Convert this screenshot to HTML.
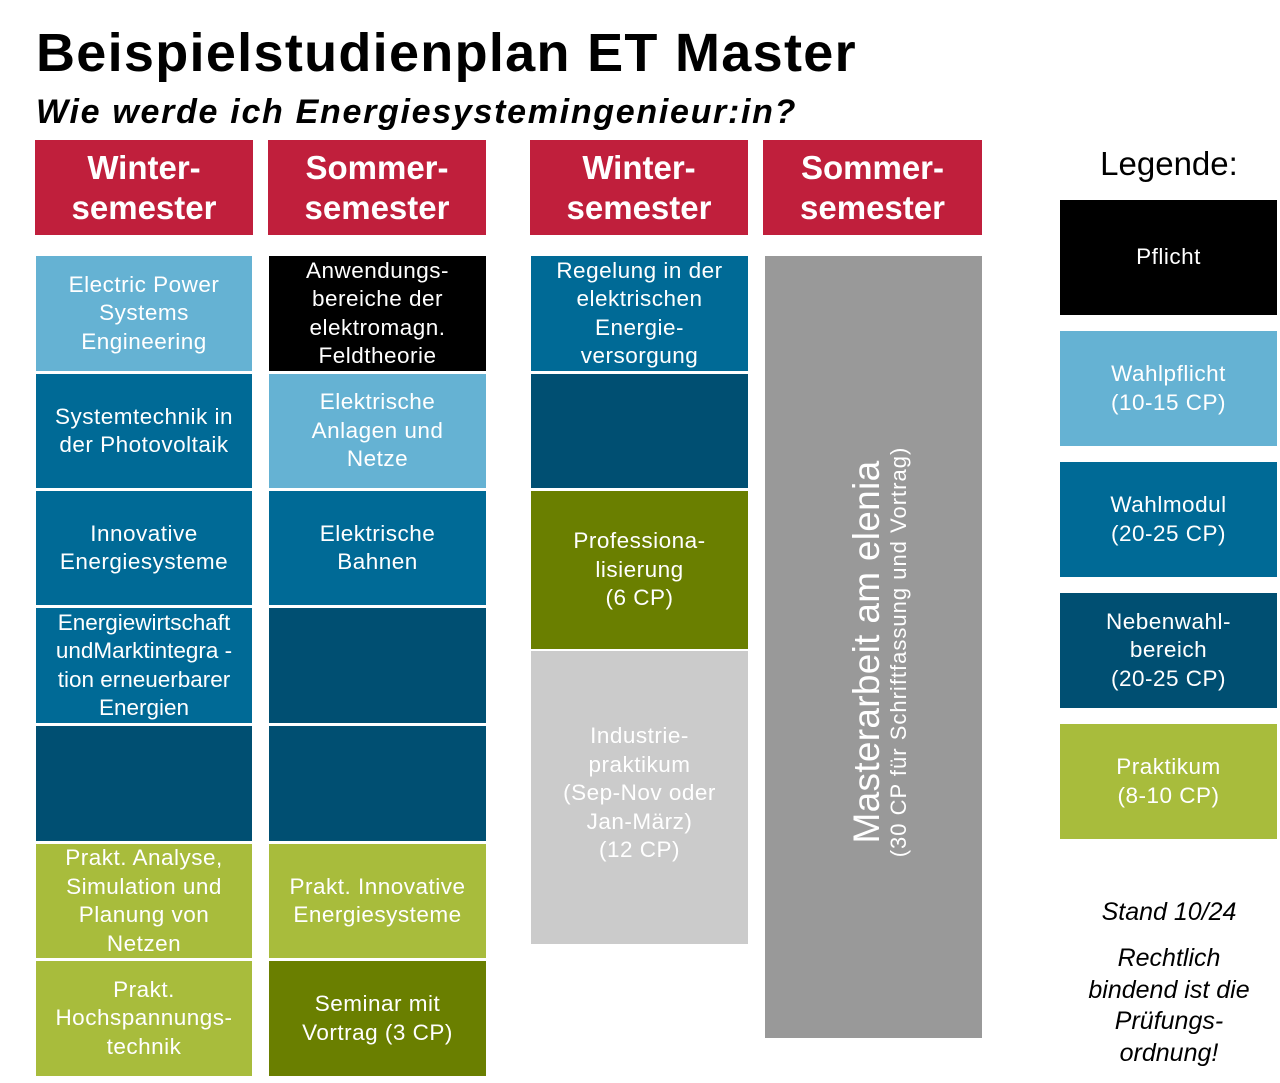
<!DOCTYPE html>
<html><head><meta charset="utf-8"><style>
*{margin:0;padding:0;box-sizing:border-box}
body{width:1280px;height:1083px;background:#fff;position:relative;overflow:hidden;font-family:"Liberation Sans",Arial,sans-serif}
.a{position:absolute;display:flex;align-items:center;justify-content:center;text-align:center;color:#fff}
.h{background:#C01F3C;font-weight:bold;font-size:33px;line-height:40px}
.c{font-size:22.5px;line-height:28.5px;letter-spacing:0.5px}
.lb{background:#65B2D3}.mb{background:#006A96}.db{background:#004F72}
.lg{background:#A8BC3C}.og{background:#6A7F00}.bk{background:#000}
</style></head><body>
<div style="position:absolute;left:36px;top:23px;font-size:54px;letter-spacing:1.3px;font-weight:bold;line-height:60px;white-space:nowrap">Beispielstudienplan ET Master</div>
<div style="position:absolute;left:36px;top:92px;font-size:34px;letter-spacing:1.7px;font-weight:bold;font-style:italic;line-height:40px;white-space:nowrap">Wie werde ich Energiesystemingenieur:in?</div>

<div class="a h" style="left:35px;top:140px;width:218px;height:95px">Winter-<br>semester</div>
<div class="a h" style="left:268px;top:140px;width:218px;height:95px">Sommer-<br>semester</div>
<div class="a h" style="left:530px;top:140px;width:218px;height:95px">Winter-<br>semester</div>
<div class="a h" style="left:763px;top:140px;width:219px;height:95px">Sommer-<br>semester</div>

<div class="a c lb" style="left:36px;top:256px;width:216px;height:115px">Electric Power<br>Systems<br>Engineering</div>
<div class="a c mb" style="left:36px;top:374px;width:216px;height:114px">Systemtechnik in<br>der Photovoltaik</div>
<div class="a c mb" style="left:36px;top:491px;width:216px;height:114px">Innovative<br>Energiesysteme</div>
<div class="a c mb" style="left:36px;top:608px;width:216px;height:115px;letter-spacing:0">Energiewirtschaft<br>undMarktintegra -<br>tion erneuerbarer<br>Energien</div>
<div class="a c db" style="left:36px;top:726px;width:216px;height:115px"></div>
<div class="a c lg" style="left:36px;top:844px;width:216px;height:114px">Prakt. Analyse,<br>Simulation und<br>Planung von<br>Netzen</div>
<div class="a c lg" style="left:36px;top:961px;width:216px;height:115px">Prakt.<br>Hochspannungs-<br>technik</div>

<div class="a c bk" style="left:269px;top:256px;width:217px;height:115px">Anwendungs-<br>bereiche der<br>elektromagn.<br>Feldtheorie</div>
<div class="a c lb" style="left:269px;top:374px;width:217px;height:114px">Elektrische<br>Anlagen und<br>Netze</div>
<div class="a c mb" style="left:269px;top:491px;width:217px;height:114px">Elektrische<br>Bahnen</div>
<div class="a c db" style="left:269px;top:608px;width:217px;height:115px"></div>
<div class="a c db" style="left:269px;top:726px;width:217px;height:115px"></div>
<div class="a c lg" style="left:269px;top:844px;width:217px;height:114px">Prakt. Innovative<br>Energiesysteme</div>
<div class="a c og" style="left:269px;top:961px;width:217px;height:115px">Seminar mit<br>Vortrag (3 CP)</div>

<div class="a c mb" style="left:531px;top:256px;width:217px;height:115px">Regelung in der<br>elektrischen<br>Energie-<br>versorgung</div>
<div class="a c db" style="left:531px;top:374px;width:217px;height:114px"></div>
<div class="a c og" style="left:531px;top:491px;width:217px;height:158px">Professiona-<br>lisierung<br>(6 CP)</div>
<div class="a c" style="left:531px;top:651px;width:217px;height:293px;background:#CBCBCB;padding-bottom:8px">Industrie-<br>praktikum<br>(Sep-Nov oder<br>Jan-März)<br>(12 CP)</div>

<div style="position:absolute;left:765px;top:256px;width:217px;height:782px;background:#999"></div>
<div class="a" style="left:488px;top:612px;width:780px;height:80px;transform:rotate(-90deg);flex-direction:column;line-height:1.1;padding-top:2px">
<div style="font-size:37px;letter-spacing:0.3px">Masterarbeit am elenia</div>
<div style="font-size:22px;letter-spacing:1px">(30 CP für Schriftfassung und Vortrag)</div></div>

<div style="position:absolute;left:1060px;top:145px;width:218px;text-align:center;font-size:33px">Legende:</div>
<div class="a c bk" style="left:1060px;top:200px;width:217px;height:115px">Pflicht</div>
<div class="a c lb" style="left:1060px;top:331px;width:217px;height:115px">Wahlpflicht<br>(10-15 CP)</div>
<div class="a c mb" style="left:1060px;top:462px;width:217px;height:115px">Wahlmodul<br>(20-25 CP)</div>
<div class="a c db" style="left:1060px;top:593px;width:217px;height:115px">Nebenwahl-<br>bereich<br>(20-25 CP)</div>
<div class="a c lg" style="left:1060px;top:724px;width:217px;height:115px">Praktikum<br>(8-10 CP)</div>

<div style="position:absolute;left:1060px;top:898px;width:218px;text-align:center;font-size:25px;font-style:italic">Stand 10/24</div>
<div style="position:absolute;left:1060px;top:943px;width:218px;text-align:center;font-size:25px;font-style:italic;line-height:31.5px">Rechtlich<br>bindend ist die<br>Prüfungs-<br>ordnung!</div>
</body></html>
